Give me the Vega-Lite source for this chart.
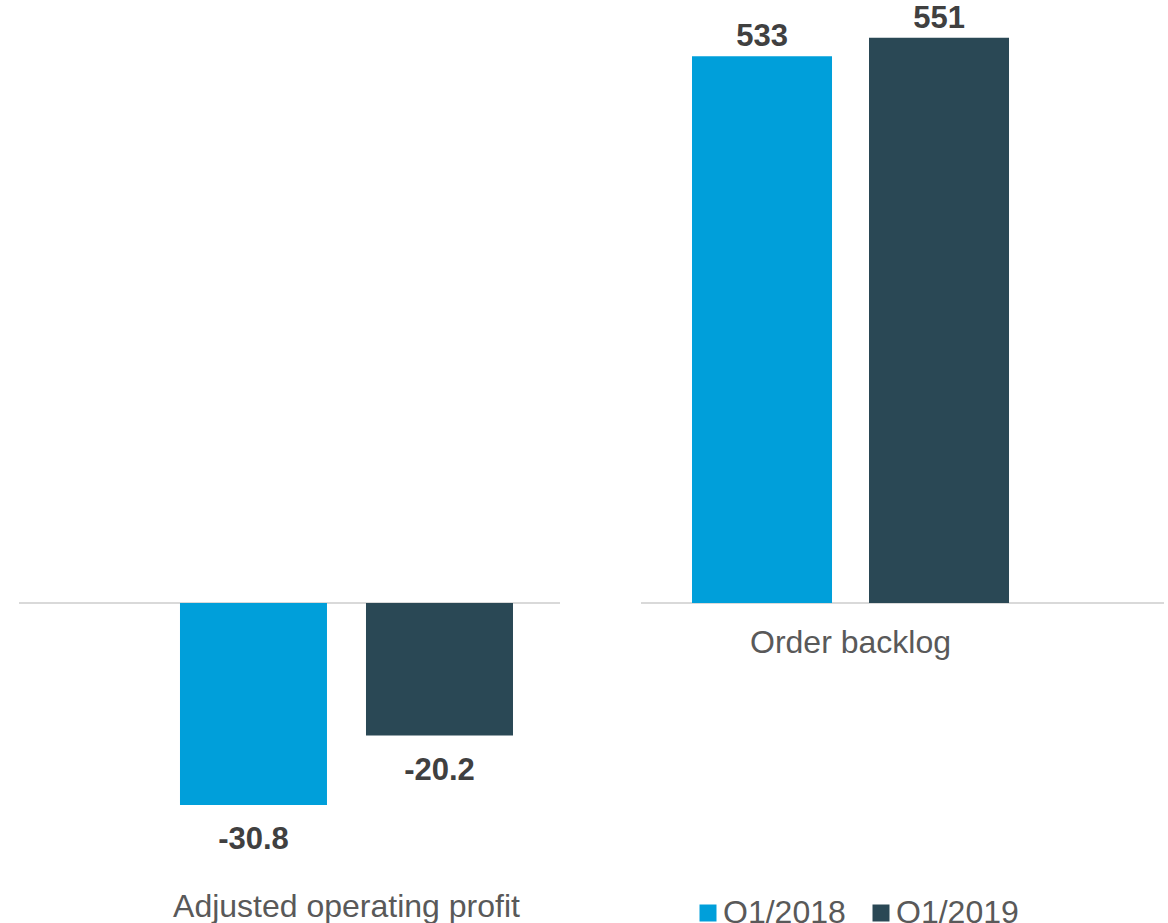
{
  "$schema": "https://vega.github.io/schema/vega-lite/v6.json",
  "padding": {"left": 18, "top": 0, "right": 4, "bottom": 0},
  "background": "white",
  "config": {
    "view": {"stroke": null},
    "font": "Liberation Sans",
    "locale": {"number": {"decimal": ".", "thousands": ",", "grouping": [3], "currency": ["$", ""], "minus": "-"}}
  },
  "datasets": {
    "profit": [
      {"metric": "Adjusted operating profit", "period": "Q1/2018", "value": -30.8},
      {"metric": "Adjusted operating profit", "period": "Q1/2019", "value": -20.2}
    ],
    "backlog": [
      {"metric": "Order backlog", "period": "Q1/2018", "value": 533},
      {"metric": "Order backlog", "period": "Q1/2019", "value": 551}
    ]
  },
  "spacing": 79,
  "hconcat": [
    {
      "width": 541,
      "height": 870,
      "data": {"name": "profit"},
      "encoding": {
        "x": {"field": "metric", "type": "nominal",
              "scale": {"paddingInner": 0, "paddingOuter": 0.3123, "align": 0.774},
              "axis": {"title": null, "domain": false, "ticks": false, "tickSize": 0, "labelAngle": 0,
                       "labelFontSize": 32, "labelColor": "#595959", "labelPadding": 21, "labelLimit": 0}},
        "xOffset": {"field": "period", "type": "nominal", "scale": {"paddingInner": 0.2097, "paddingOuter": 0}},
        "y": {"field": "value", "type": "quantitative",
              "scale": {"domain": [-40.70, 91.92], "nice": false, "zero": false}, "axis": null}
      },
      "layer": [
        {"mark": {"type": "rule", "color": "#d9d9d9", "strokeWidth": 2},
         "encoding": {"x": null, "xOffset": null, "y": {"datum": 0}}},
        {"mark": {"type": "bar"},
         "encoding": {"color": {"field": "period", "type": "nominal",
            "scale": {"domain": ["Q1/2018", "Q1/2019"], "range": ["#009FDA", "#2A4855"]},
            "legend": {"orient": "none", "legendX": 673, "legendY": 897, "direction": "horizontal", "title": null,
                       "symbolType": "square", "symbolSize": 289, "symbolStrokeWidth": 0, "labelFontSize": 32,
                       "labelColor": "#595959", "columnPadding": 19, "labelOffset": -1, "padding": 0}}}},
        {"mark": {"type": "text", "fontSize": 31, "fontWeight": "bold", "color": "#404040", "baseline": "alphabetic", "dy": 44},
         "encoding": {"text": {"field": "value", "type": "quantitative", "format": ".1f"}}}
      ]
    },
    {
      "width": 523,
      "height": 603,
      "data": {"name": "backlog"},
      "encoding": {
        "x": {"field": "metric", "type": "nominal",
              "scale": {"paddingInner": 0, "paddingOuter": 0.3249, "align": 0.2476},
              "axis": {"title": null, "domain": false, "ticks": false, "tickSize": 0, "labelAngle": 0,
                       "labelFontSize": 32, "labelColor": "#595959", "labelPadding": 24.5, "labelLimit": 0}},
        "xOffset": {"field": "period", "type": "nominal", "scale": {"paddingInner": 0.209, "paddingOuter": 0}},
        "y": {"field": "value", "type": "quantitative",
              "scale": {"domain": [0, 587.72], "nice": false, "zero": false}, "axis": null}
      },
      "layer": [
        {"mark": {"type": "rule", "color": "#d9d9d9", "strokeWidth": 2},
         "encoding": {"x": null, "xOffset": null, "y": {"datum": 0}}},
        {"mark": {"type": "bar"},
         "encoding": {"color": {"field": "period", "type": "nominal",
            "scale": {"domain": ["Q1/2018", "Q1/2019"], "range": ["#009FDA", "#2A4855"]},
            "legend": {"orient": "none", "legendX": 673, "legendY": 897, "direction": "horizontal", "title": null,
                       "symbolType": "square", "symbolSize": 289, "symbolStrokeWidth": 0, "labelFontSize": 32,
                       "labelColor": "#595959", "columnPadding": 19, "labelOffset": -1, "padding": 0}}}},
        {"mark": {"type": "text", "fontSize": 31, "fontWeight": "bold", "color": "#404040", "baseline": "alphabetic", "dy": -10},
         "encoding": {"text": {"field": "value", "type": "quantitative", "format": "d"}}}
      ]
    }
  ],
  "resolve": {"scale": {"x": "independent", "xOffset": "independent", "y": "independent", "color": "shared"}}
}
